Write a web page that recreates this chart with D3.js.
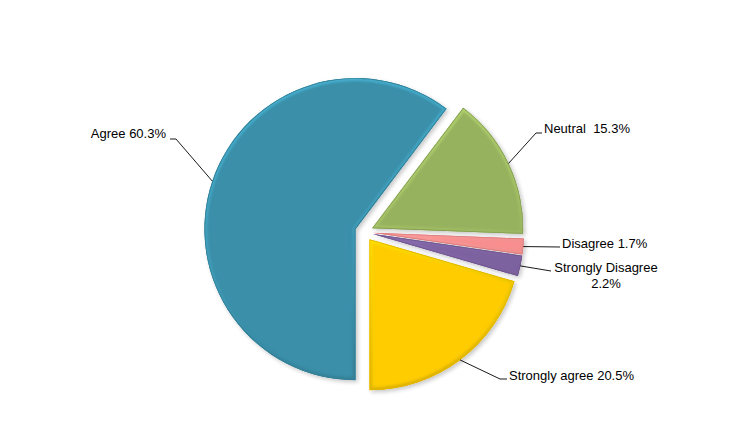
<!DOCTYPE html>
<html><head><meta charset="utf-8">
<script src="https://cdn.jsdelivr.net/npm/d3@7"></script>
<style>html,body{margin:0;padding:0;background:#fff;}svg{display:block;}</style>
</head><body>
<script>
// ---- data ----
const categories = ["Agree", "Neutral", "Disagree", "Strongly Disagree", "Strongly agree"];
const values = [60.3, 15.3, 1.7, 2.2, 20.5];
const labelTexts = [["Agree 60.3%"], ["Neutral  15.3%"], ["Disagree 1.7%"], ["Strongly Disagree", "2.2%"], ["Strongly agree 20.5%"]];
const colors = ["#3A8FA9", "#97B25E", "#F88E8E", "#7D62A0", "#FFCC00"];

// ---- layout ----
const W = 737, H = 425;
const cx = 364, cy = 232, R = 151, explode = 9;
const labelLayout = [
  {x: 166, y: 138, anchor: "end", ex: 176, ey: 139, e2: 170},
  {x: 544, y: 133, anchor: "start", ex: 536, ey: 133, e2: 542},
  {x: 562, y: 248, anchor: "start", ex: 560, ey: 247, e2: 560},
  {x: 606, y: 272, anchor: "middle", ex: 551, ey: 271, e2: 551},
  {x: 509, y: 380, anchor: "start", ex: 500, ey: 379, e2: 507}
];

const svg = d3.select("body").append("svg").attr("width", W).attr("height", H);
const defs = svg.append("defs");

// soft drop shadow
const sh = defs.append("filter").attr("id", "shadow").attr("x", "-10%").attr("y", "-10%").attr("width", "130%").attr("height", "130%");
sh.append("feGaussianBlur").attr("in", "SourceAlpha").attr("stdDeviation", 2).attr("result", "sb");
sh.append("feOffset").attr("in", "sb").attr("dx", 2).attr("dy", 2).attr("result", "so");
sh.append("feComponentTransfer").attr("in", "so").attr("result", "sa")
  .append("feFuncA").attr("type", "linear").attr("slope", 0.22);
const m = sh.append("feMerge");
m.append("feMergeNode").attr("in", "sa");
m.append("feMergeNode").attr("in", "SourceGraphic");

const blur = defs.append("filter").attr("id", "soft");
blur.append("feGaussianBlur").attr("stdDeviation", 1.3);

colors.forEach((c, i) => {
  const lg = defs.append("linearGradient").attr("id", "rim" + i)
    .attr("gradientUnits", "userSpaceOnUse").attr("x1", -R * 0.3).attr("y1", -R).attr("x2", R * 0.3).attr("y2", R);
  lg.append("stop").attr("offset", "0%").attr("stop-color", d3.color(c).brighter(0.7));
  lg.append("stop").attr("offset", "50%").attr("stop-color", d3.color(c).brighter(0.3));
  lg.append("stop").attr("offset", "100%").attr("stop-color", d3.color(c).darker(0.5));
});

const pie = d3.pie().sort(null).value(d => d).startAngle(Math.PI).endAngle(3 * Math.PI);
const arcs = pie(values);
const arc = d3.arc().innerRadius(0).outerRadius(R);

const g = svg.append("g").attr("transform", `translate(${cx},${cy})`);
arcs.forEach((a, i) => {
  const mid = (a.startAngle + a.endAngle) / 2;
  const dx = Math.sin(mid) * explode, dy = -Math.cos(mid) * explode;
  const d = arc(a);
  defs.append("clipPath").attr("id", "clip" + i).append("path").attr("d", d);
  const sg = g.append("g").attr("transform", `translate(${dx},${dy})`).attr("filter", "url(#shadow)");
  sg.append("path").attr("d", d).attr("fill", colors[i]);
  const inner = sg.append("g").attr("clip-path", `url(#clip${i})`);
  inner.append("path").attr("d", d).attr("fill", "none")
    .attr("stroke", `url(#rim${i})`).attr("stroke-width", 6)
    .attr("stroke-opacity", 0.8).attr("filter", "url(#soft)");
  inner.append("path").attr("d", d).attr("fill", "none")
    .attr("stroke", d3.color(colors[i]).darker(0.35)).attr("stroke-width", 1.6);
});

// labels + leader lines
arcs.forEach((a, i) => {
  const mid = (a.startAngle + a.endAngle) / 2;
  const rr = R + explode;
  const px = cx + Math.sin(mid) * rr, py = cy - Math.cos(mid) * rr;
  const L = labelLayout[i];
  svg.append("polyline")
    .attr("points", `${px},${py} ${L.ex},${L.ey} ${L.e2},${L.ey}`)
    .attr("fill", "none").attr("stroke", "#000").attr("stroke-width", 0.9);
  const t = svg.append("text").attr("x", L.x).attr("y", L.y).attr("text-anchor", L.anchor)
    .attr("font-family", "Arial, 'Liberation Sans', sans-serif").attr("font-size", 13).attr("fill", "#000")
    .style("white-space", "pre");
  labelTexts[i].forEach((s, j) => {
    t.append("tspan").attr("x", L.x).attr("dy", j === 0 ? 0 : 16).text(s);
  });
});
</script>
</body></html>
